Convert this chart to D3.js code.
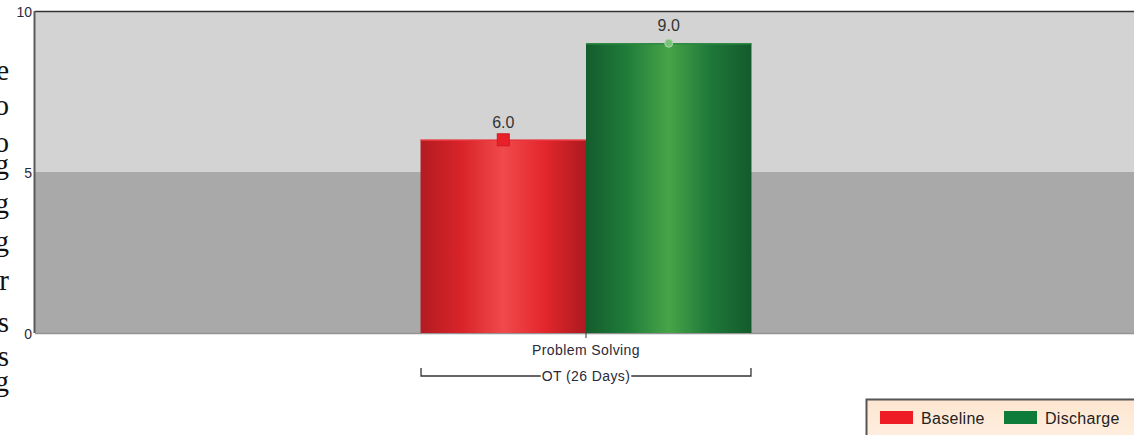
<!DOCTYPE html>
<html>
<head>
<meta charset="utf-8">
<script src="https://cdn.jsdelivr.net/npm/d3@7"></script>
<style>
  html, body { margin: 0; padding: 0; background: #fff; overflow: hidden; }
  svg { display: block; }
</style>
</head>
<body>
<div id="chart"></div>
<script>
const categories = ["Problem Solving"];
const groupLabel = "OT (26 Days)";
const seriesNames = ["Baseline", "Discharge"];
const baselineValues = [6.0];
const dischargeValues = [9.0];
const yTicks = [0, 5, 10];
const bands = [[0, 5], [5, 10]];
// clipped words from the page text to the left of the chart
const edgeLetters = ["e", "o", "o", "g", "g", "g", "r", "s", "s", "g"];
const edgeBaselines = [80, 115, 152, 174, 213, 251, 290, 332, 366, 391];

const W = 1134, H = 435;
const M = { top: 11, right: -3, bottom: 102, left: 35 };
const iW = W - M.left - M.right;
const iH = H - M.top - M.bottom;
const FONT = "Liberation Sans, Arial, sans-serif";

const svg = d3.select("#chart").append("svg")
  .attr("width", W).attr("height", H)
  .style("font-family", FONT);

const defs = svg.append("defs");
function cyl(id, stops) {
  const lg = defs.append("linearGradient").attr("id", id)
    .attr("x1", "0%").attr("x2", "100%").attr("y1", "0%").attr("y2", "0%");
  stops.forEach(([o, c]) => lg.append("stop").attr("offset", o).attr("stop-color", c));
}
cyl("gRed", [["0%", "#b31b22"], ["25%", "#d92429"], ["50%", "#f04a4c"], ["75%", "#e3262c"], ["100%", "#ad1a20"]]);
cyl("gGreen", [["0%", "#155c2d"], ["25%", "#1f7d3a"], ["50%", "#48a448"], ["75%", "#1e7839"], ["100%", "#145a2c"]]);
const lg = defs.append("linearGradient").attr("id", "gLegend")
  .attr("x1", "0%").attr("x2", "0%").attr("y1", "0%").attr("y2", "100%");
lg.append("stop").attr("offset", "0%").attr("stop-color", "#fde6d0");
lg.append("stop").attr("offset", "100%").attr("stop-color", "#fff1e4");

// page text fragments, cut by the left edge
svg.append("g").selectAll("text")
  .data(edgeLetters).enter().append("text")
  .attr("x", 9).attr("y", (d, i) => edgeBaselines[i])
  .attr("text-anchor", "end")
  .style("font-family", "Liberation Serif, Times New Roman, serif")
  .style("font-size", "29px")
  .style("fill", "#111")
  .text(d => d);

const g = svg.append("g").attr("transform", `translate(${M.left},${M.top})`);

const y = d3.scaleLinear().domain([0, 10]).range([iH, 0]);
const x0 = d3.scaleBand().domain(categories).range([0, iW]).paddingInner(0).paddingOuter(1.165);
const x1 = d3.scaleBand().domain(seriesNames).range([0, x0.bandwidth()]);

// background bands
g.append("g").selectAll("rect")
  .data(bands).enter().append("rect")
  .attr("x", 0).attr("width", iW)
  .attr("y", d => y(d[1])).attr("height", d => y(d[0]) - y(d[1]))
  .attr("fill", (d, i) => i === 0 ? "#a9a9a9" : "#d3d3d3");

// frame lines
g.append("line").attr("x1", 0).attr("x2", iW).attr("y1", 0.5).attr("y2", 0.5)
  .attr("stroke", "#333").attr("stroke-width", 1.5);
g.append("line").attr("x1", 0).attr("x2", iW).attr("y1", iH + 0.5).attr("y2", iH + 0.5)
  .attr("stroke", "#949494").attr("stroke-width", 1.5);
g.append("line").attr("x1", -0.5).attr("x2", -0.5).attr("y1", 0).attr("y2", iH)
  .attr("stroke", "#5a5a5a").attr("stroke-width", 2);

// y axis labels
g.append("g")
  .call(d3.axisLeft(y).tickValues(yTicks).tickSize(0).tickPadding(3).tickFormat(d3.format("d")))
  .attr("font-size", 14)
  .attr("font-family", FONT)
  .call(ax => ax.select(".domain").remove())
  .call(ax => ax.selectAll("text")
    .attr("dy", "0.36em")
    .attr("font-size", 14)
    .style("font-size", "14px")
    .style("fill", "#2a2a3a"));

// bars
const series = [
  { name: seriesNames[0], values: baselineValues, fill: "url(#gRed)", top: "#e8343a" },
  { name: seriesNames[1], values: dischargeValues, fill: "url(#gGreen)", top: "#2f8a45" }
];

series.forEach(s => {
  s.values.forEach((v, i) => {
    const bx = x0(categories[i]) + x1(s.name);
    const bw = x1.bandwidth();
    g.append("rect")
      .attr("x", bx).attr("width", bw)
      .attr("y", y(v)).attr("height", iH - y(v))
      .attr("fill", s.fill);
    g.append("line")
      .attr("x1", bx).attr("x2", bx + bw)
      .attr("y1", y(v) + 0.5).attr("y2", y(v) + 0.5)
      .attr("stroke", s.top).attr("stroke-width", 1.5);
    const cx = bx + bw / 2;
    if (s.name === "Baseline") {
      g.append("rect").attr("x", cx - 6).attr("y", y(v) - 6).attr("width", 12).attr("height", 12)
        .attr("fill", "#e8202a").attr("stroke", "#d01a20").attr("stroke-width", 1);
    } else {
      g.append("circle").attr("cx", cx).attr("cy", y(v)).attr("r", 4)
        .attr("fill", "#7cc07c").attr("stroke", "#a8d8a8").attr("stroke-width", 1);
    }
    g.append("text")
      .attr("x", cx).attr("y", y(v) - 12)
      .attr("text-anchor", "middle")
      .style("font-size", "16px")
      .style("fill", "#333")
      .text(d3.format(".1f")(v));
  });
});

// x axis
const xAxis = g.append("g").attr("transform", `translate(0,${iH})`);
categories.forEach(c => {
  const cx = x0(c) + x0.bandwidth() / 2;
  xAxis.append("line").attr("x1", cx).attr("x2", cx).attr("y1", 0).attr("y2", 5)
    .attr("stroke", "#333");
  xAxis.append("text").attr("x", cx).attr("y", 22)
    .attr("text-anchor", "middle").style("font-size", "14px").style("letter-spacing", "0.4px")
    .style("fill", "#2a2a3a")
    .text(c);
});

// group bracket
const gx0 = x0(categories[0]), gx1 = x0(categories[categories.length - 1]) + x0.bandwidth();
const gmid = (gx0 + gx1) / 2;
const by = 43;
const gl = xAxis.append("text").attr("x", gmid).attr("y", by + 5)
  .attr("text-anchor", "middle").style("font-size", "14px").style("letter-spacing", "0.4px")
  .style("fill", "#2a2a3a")
  .text(groupLabel);
const labelW = gl.node().getComputedTextLength();
xAxis.insert("path", "text")
  .attr("d", `M${gx0 + 0.5},${by - 8}V${by}H${gmid - labelW / 2 - 1}M${gmid + labelW / 2 + 1},${by}H${gx1 - 0.5}V${by - 8}`)
  .attr("fill", "none").attr("stroke", "#333").attr("stroke-width", 1.3);

// legend
const leg = svg.append("g").attr("transform", "translate(866,399)");
leg.append("rect").attr("x", 0.5).attr("y", 0.5).attr("width", 280).attr("height", 50)
  .attr("fill", "url(#gLegend)").attr("stroke", "#555").attr("stroke-width", 2);
const legX = [14, 138];
series.forEach((s, i) => {
  leg.append("rect").attr("x", legX[i]).attr("y", 12).attr("width", 33).attr("height", 13)
    .attr("fill", i === 0 ? "#ee1c25" : "#0d7b3a");
  leg.append("text").attr("x", legX[i] + 41).attr("y", 25)
    .style("font-size", "16px").style("letter-spacing", "0.3px").style("fill", "#222")
    .text(s.name);
});
</script>
</body>
</html>
